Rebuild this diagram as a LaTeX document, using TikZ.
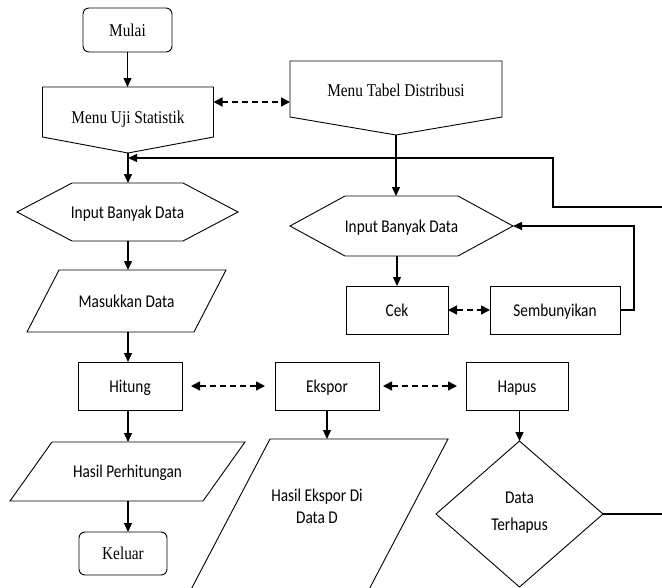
\documentclass[tikz,border=0pt]{standalone}
\usepackage{fontspec}
\setmainfont{Liberation Serif}[FakeStretch=0.85]
\newfontfamily\calfont{Carlito}[FakeStretch=0.85]
\usetikzlibrary{arrows.meta,shapes.geometric,calc}
\begin{document}
\begin{tikzpicture}[x=1pt,y=-1pt,
  every node/.style={inner sep=0pt, outer sep=0pt},
  ser/.style={font=\fontsize{18}{22}\selectfont},
  cal/.style={font=\calfont\fontsize{18}{22}\selectfont},
  frame/.style={line width=0.9pt},
  boxn/.style={draw, frame, rectangle},
  rnd/.style={draw, frame, rounded corners=6pt},
  lift/.style={text height=12pt, text depth=#1},
  arr/.style={line width=1.3pt, -{Triangle[length=9pt,width=8pt]}},
  darr/.style={line width=1.6pt, dash pattern=on 6pt off 4pt, {Triangle[length=9pt,width=9pt]}-{Triangle[length=9pt,width=9pt]}},
  ln/.style={line width=1.3pt}
]
\clip (0,0) rectangle (662,587);

% nodes
\node[rnd, ser, minimum width=89pt, minimum height=44pt, lift=0pt] (mulai) at (127.5,30) {Mulai};
\node[ser, minimum width=171pt, minimum height=66pt, lift=6pt] (uji) at (128,120) {Menu Uji Statistik};
\node[ser, minimum width=212pt, minimum height=74pt, lift=16pt] (tabel) at (396,98) {Menu Tabel Distribusi};
\node[cal, minimum width=221pt, minimum height=58pt, lift=0pt] (inL) at (127.5,212) {Input Banyak Data};
\node[cal, minimum width=223pt, minimum height=60pt, lift=0pt] (inR) at (401.5,226) {Input Banyak Data};
\node[cal, minimum width=199pt, minimum height=62pt, lift=0pt] (mas) at (126.5,301) {Masukkan Data};
\node[boxn, cal, minimum width=104pt, minimum height=48pt, lift=0pt] (hit) at (130,386) {Hitung};
\node[boxn, cal, minimum width=104pt, minimum height=48pt, lift=0pt] (eks) at (327,386) {Ekspor};
\node[boxn, cal, minimum width=102pt, minimum height=48pt, lift=0pt] (hap) at (517,386) {Hapus};
\node[cal, minimum width=235pt, minimum height=59pt, lift=0pt] (hp) at (127.5,471.5) {Hasil Perhitungan};
\node[rnd, ser, minimum width=88pt, minimum height=43pt, lift=0pt] (kel) at (123,553.5) {Keluar};
\node[cal, align=center, minimum width=262pt, minimum height=160pt, text height=12pt, text depth=4pt] (hasilE) at (317,519) {Hasil Ekspor Di\\Data D};
\node[draw, frame, diamond, cal, align=center, minimum width=167pt, minimum height=146pt, text height=32pt, text depth=0pt] (del) at (519.5,514) {Data\\[5pt]Terhapus};
\node[boxn, cal, minimum width=102pt, minimum height=48pt, lift=0pt] (cek) at (397,310) {Cek};
\node[boxn, cal, minimum width=130pt, minimum height=48pt, lift=0pt] (sem) at (555,310) {Sembunyikan};

% outlines
\draw[frame] (uji.north west) -- (uji.north east) -- ($(uji.south east)+(0,-16)$) -- (uji.south) -- ($(uji.south west)+(0,-16)$) -- cycle;
\draw[frame] (tabel.north west) -- (tabel.north east) -- ($(tabel.south east)+(0,-18)$) -- (tabel.south) -- ($(tabel.south west)+(0,-18)$) -- cycle;
\draw[frame] ($(inL.north west)+(55,0)$) -- ($(inL.north east)+(-55,0)$) -- (inL.east) -- ($(inL.south east)+(-55,0)$) -- ($(inL.south west)+(55,0)$) -- (inL.west) -- cycle;
\draw[frame] ($(inR.north west)+(55,0)$) -- ($(inR.north east)+(-55,0)$) -- (inR.east) -- ($(inR.south east)+(-55,0)$) -- ($(inR.south west)+(55,0)$) -- (inR.west) -- cycle;
\draw[frame] ($(mas.north west)+(32,0)$) -- (mas.north east) -- ($(mas.south east)+(-32,0)$) -- (mas.south west) -- cycle;
\draw[frame] ($(hp.north west)+(42,0)$) -- (hp.north east) -- ($(hp.south east)+(-42,0)$) -- (hp.south west) -- cycle;
\draw[frame] (hasilE.south west) -- ($(hasilE.north west)+(84,0)$) -- (hasilE.north east) -- ($(hasilE.south east)+(-84,0)$);

% connectors
\coordinate (join) at (uji.south |- 0,158);
\coordinate (offA) at (662,207);
\coordinate (offB) at (662,514);
\draw[arr] (mulai.south) -- (mulai.south |- uji.north);
\draw[darr] ([yshift=18pt]uji.east) -- ([yshift=18pt]uji.east -| tabel.west);
\draw[arr] (uji.south) -- (uji.south |- inL.north);
\draw[arr] (offA) -- (553,207) -- (553,158) -- (join);
\draw[arr] (tabel.south) -- (tabel.south |- inR.north);
\draw[arr] (uji.south |- inL.south) -- (uji.south |- mas.north);
\draw[arr] (uji.south |- mas.south) -- (uji.south |- hit.north);
\draw[arr] (uji.south |- hit.south) -- (uji.south |- hp.north);
\draw[arr] (uji.south |- hp.south) -- (uji.south |- kel.north);
\draw[darr, shorten <=9pt, shorten >=10pt] (hit.east) -- (eks.west);
\draw[darr, shorten <=4pt, shorten >=9pt] (eks.east) -- (hap.west);
\draw[arr] (eks.south) -- (eks.south |- hasilE.north);
\draw[arr] (del.north |- hap.south) -- (del.north);
\draw[arr] (cek.north |- inR.south) -- (cek.north);
\draw[darr] (cek.east) -- (sem.west);
\draw[arr] (sem.east) -- ++(14,0) |- (inR.east);
\draw[ln] (del.east) -- (offB);
\end{tikzpicture}
\end{document}
